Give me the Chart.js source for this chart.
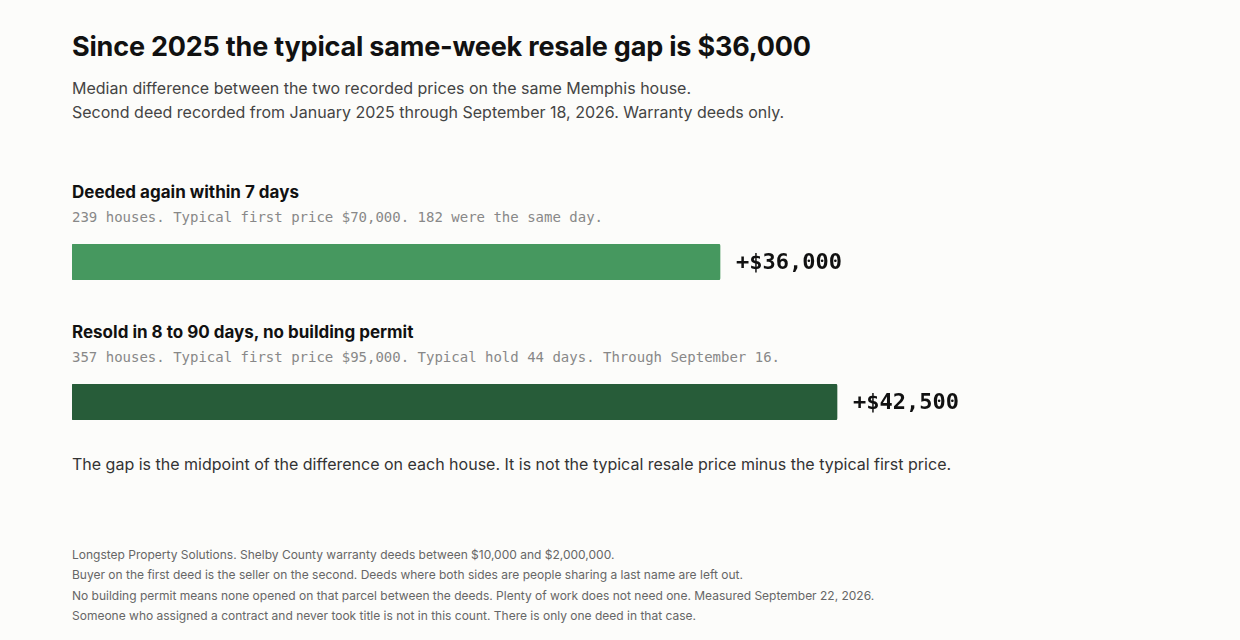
<!DOCTYPE html>
<html><head><meta charset="utf-8">
<script src="https://cdn.jsdelivr.net/npm/chart.js@4/dist/chart.umd.min.js"></script>
<style>
body{margin:0;background:#fcfcfa;font-family:Inter,"Noto Sans",sans-serif;width:1240px;height:640px;position:relative;overflow:hidden}
.a{position:absolute;left:72px;white-space:nowrap}
h1{margin:0;font-size:27px;font-weight:700;color:#111;letter-spacing:-0.2px}
.sub{font-size:16px;color:#444;line-height:24px}
.h{font-size:17px;font-weight:700;color:#111}
.m{font-family:"DejaVu Sans Mono",monospace;font-size:14px;color:#888}
.note{font-size:16px;color:#333}
.foot{font-size:12px;color:#666;line-height:20.3px}
canvas{display:block}
</style></head><body>
<div class="a" style="top:30px"><h1 id="title"></h1></div>
<div class="a sub" style="top:76px">Median difference between the two recorded prices on the same Memphis house.<br>Second deed recorded from January 2025 through September 18, 2026. Warranty deeds only.</div>
<div class="a h" style="top:182px" id="g0"></div>
<div class="a m" style="top:209px" id="s0"></div>
<div class="a" style="top:244px;width:1100px;height:36px"><canvas id="c0"></canvas></div>
<div class="a h" style="top:322px" id="g1"></div>
<div class="a m" style="top:349px" id="s1"></div>
<div class="a" style="top:384px;width:1100px;height:36px"><canvas id="c1"></canvas></div>
<div class="a note" style="top:454px">The gap is the midpoint of the difference on each house. It is not the typical resale price minus the typical first price.</div>
<div class="a foot" style="top:545px">Longstep Property Solutions. Shelby County warranty deeds between $10,000 and $2,000,000.<br>Buyer on the first deed is the seller on the second. Deeds where both sides are people sharing a last name are left out.<br>No building permit means none opened on that parcel between the deeds. Plenty of work does not need one. Measured September 22, 2026.<br>Someone who assigned a contract and never took title is not in this count. There is only one deed in that case.</div>
<script>
const categories = ["Deeded again within 7 days", "Resold in 8 to 90 days, no building permit"];
const subtitles = ["239 houses. Typical first price $70,000. 182 were the same day.", "357 houses. Typical first price $95,000. Typical hold 44 days. Through September 16."];
const gapValues = [36000, 42500];
const barColors = ["#46985f", "#275c39"];
const axisMax = 61111;
document.getElementById('title').textContent = "Since 2025 the typical same-week resale gap is $36,000";
const labelPlugin = {
  id:'lbl',
  afterDatasetsDraw(chart){
    const ctx=chart.ctx, bar=chart.getDatasetMeta(0).data[0], v=chart.data.datasets[0].data[0];
    ctx.save();
    ctx.font='bold 22px "DejaVu Sans Mono", monospace';
    ctx.fillStyle='#111'; ctx.textBaseline='middle';
    ctx.fillText('+$'+v.toLocaleString('en-US'), bar.x+16, bar.y+1);
    ctx.restore();
  }
};
categories.forEach((c,i)=>{
  document.getElementById('g'+i).textContent=c;
  document.getElementById('s'+i).textContent=subtitles[i];
  new Chart(document.getElementById('c'+i),{
    type:'bar',
    data:{labels:[c],datasets:[{data:[gapValues[i]],backgroundColor:barColors[i],borderRadius:2,borderSkipped:false,barPercentage:1,categoryPercentage:1}]},
    options:{indexAxis:'y',responsive:true,maintainAspectRatio:false,animation:false,
      layout:{padding:0},
      plugins:{legend:{display:false},tooltip:{enabled:false}},
      scales:{x:{display:false,min:0,max:axisMax},y:{display:false}}},
    plugins:[labelPlugin]
  });
});
</script>
</body></html>
